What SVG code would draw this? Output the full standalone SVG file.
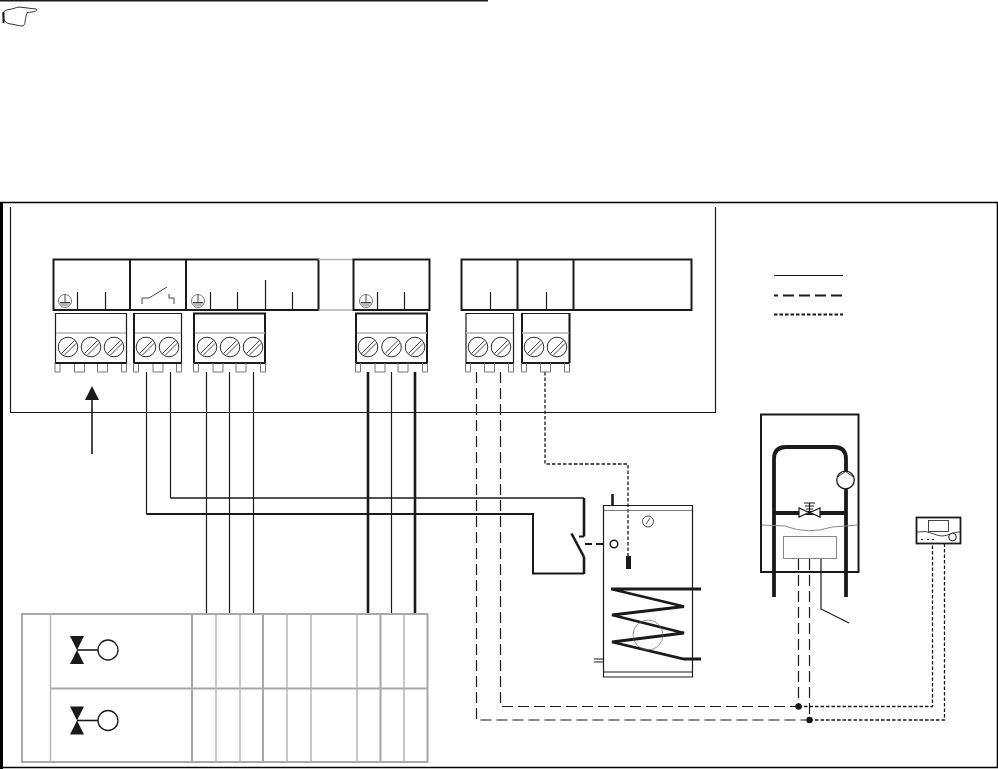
<svg xmlns="http://www.w3.org/2000/svg" width="998" height="769" viewBox="0 0 998 769">
<style>
path,circle,rect,ellipse{fill:none}
.k{stroke:#1a1a1a;stroke-width:1.2}
.n{stroke:#1a1a1a;stroke-width:.8}
.m{stroke:#1a1a1a;stroke-width:1.6}
.h{stroke:#1a1a1a;stroke-width:2}
.t{stroke:#1a1a1a;stroke-width:2.6}
.g{stroke:#b3b3b3;stroke-width:1.4}
.gg{stroke:#a8a8a8;stroke-width:2}
.ft{stroke:#777;stroke-width:1}
.d{stroke:#1a1a1a;stroke-width:1.2;stroke-dasharray:11 5}
.s{stroke:#1a1a1a;stroke-width:1.3;stroke-dasharray:3.500 2}
.f{fill:#1a1a1a;stroke:none}
.w{fill:#fff;stroke:#1a1a1a;stroke-width:.9}
.b{stroke:#1a1a1a;stroke-width:3.8}
</style>
<defs>
<g id="screw"><circle r="9.800" class="w"/><path d="M-6.500 6.500L6.500-6.500M-3.800 8.300L8.300-3.800" class="n"/></g>
<g id="foot"><path d="M-2.500 0V9H2.500V0" class="ft"/></g>
<g id="foot2"><path d="M-5 0V9H5V0" class="ft"/></g>
<g id="earth"><circle r="6.500" style="fill:#fff;stroke:#666;stroke-width:.9"/><path d="M-6 1.500A6.500 6.500 0 0 0 6 1.500Z" style="fill:#b3b3b3"/><path d="M0-6V1" class="n"/><path d="M-5 1.500H5" class="n"/></g>
<g id="valve"><path d="M70 0H84L77 14ZM70 28H84L77 14Z" class="f"/><path d="M77 14H98" class="m"/><ellipse cx="108" cy="14" rx="10" ry="10" style="fill:#fff;stroke:#1a1a1a;stroke-width:1.3"/></g>
</defs>
<g id="topnote">
<path d="M0 .7H488" class="m"/>
<path d="M3 14C3 11 6 10 9 9.500C13 9 16 7.500 19 7L36 9C38 10 37 12 27 12.500C27 14 26 16 25.500 18.500C25 22 25 26 22 26C19 26 15 24.500 11 24C6 23.500 3 21 3 14Z" style="fill:#fff;stroke:#1a1a1a;stroke-width:.9"/>
<path d="M3.500 12V23" class="h"/>
</g>
<g id="frames">
<path d="M1.500 202V769" style="stroke:#000;stroke-width:3"/>
<path d="M0 202.500H997.500V767.500H0" style="stroke:#000;stroke-width:1.6"/>
<path d="M10.500 207V412.500H715.500V207" class="k"/>
</g>
<g id="connectors">
<path d="M146.500 372V514M170.500 372V498" class="k"/>
<path d="M170.500 498H584" class="m"/>
<path d="M146.500 514H533V573.500H584" class="h"/>
<path d="M584 498V536.500M584 557V574" class="t"/>
<path d="M206.500 372V613M229.500 372V613M253.500 372V613" class="k"/>
<path d="M368 372V613M415 372V613" class="t"/>
<path d="M391.500 372V613" class="k"/>
<path d="M476.500 372V720H809.500" class="d"/>
<path d="M500.500 372V706.500H798.500" class="d"/>
<path d="M809.500 720H944.500V541M798.500 706.500H932.500V541" class="s"/>
<path d="M798.500 559V706.500M809.500 559V720" class="d"/>
<path d="M545 372V464H628V556" class="s"/>
<path d="M585 544H607" style="stroke:#1a1a1a;stroke-width:2.200;stroke-dasharray:7 4"/>
<path d="M821 559V609L849 623" class="k"/>
<circle cx="798.500" cy="706.500" r="3.200" class="f"/>
<circle cx="809.500" cy="720" r="3.200" class="f"/>
<path d="M92 454V396" class="m"/>
<path d="M85 400L92 386L99 400Z" class="f"/>
</g>
<g id="header1">
<path d="M53.500 259.500H318.500V310H53.500ZM130 259.500V310M186 259.500V310" class="h"/>
<path d="M77.500 292V310M105.500 292V310M210.500 292V310M237.500 292V310M265.500 280V310M292.500 292V310" class="k"/>
<use href="#earth" x="65" y="301"/><use href="#earth" x="198" y="301"/>
<path d="M142 304V298H149L167 287M169 294V298H174V304" class="n"/>
</g>
<g id="header2">
<path d="M318.500 259.500H354M318.500 310H354" class="g"/>
<path d="M353.500 259.500H429.500V310H353.500Z" class="h"/>
<path d="M377.500 292V310M404.500 292V310" class="k"/>
<use href="#earth" x="366" y="301"/>
</g>
<g id="header3">
<path d="M461.500 259.500H691.500V310H461.500ZM517.500 259.500V310M573.500 259.500V310" class="h"/>
<path d="M490.500 292V310M546.500 292V310" class="k"/>
</g>
<g id="legend"><path d="M774 275.500H843" class="k"/><path d="M774 295.500H843" style="stroke:#1a1a1a;stroke-width:2;stroke-dasharray:4 5 11 5 11 5 11 5 11 5"/><path d="M774 314.500H843" style="stroke:#1a1a1a;stroke-width:2;stroke-dasharray:3.500 2"/></g>
<g id="terminal1"><path d="M55.500 313.500H126.500V363H55.500Z" class="k"/><path d="M56 333H126" class="g"/><use href="#screw" x="68" y="347"/><use href="#screw" x="91" y="347"/><use href="#screw" x="114" y="347"/><use href="#foot" x="57.500" y="363"/><use href="#foot2" x="79.500" y="363"/><use href="#foot2" x="102.500" y="363"/><use href="#foot" x="124" y="363"/><path d="M55.500 363H126.500" class="h"/></g>
<g id="terminal2"><path d="M134 313.500H181.500V363H134Z" class="k"/><path d="M134 313V363" class="h"/><path d="M135 333H181" class="g"/><use href="#screw" x="146" y="347"/><use href="#screw" x="169" y="347"/><use href="#foot" x="136" y="363"/><use href="#foot2" x="158" y="363"/><use href="#foot" x="179" y="363"/><path d="M134 363H181.500" class="h"/></g>
<g id="terminal3"><path d="M194 313.500H265V363H194Z" class="h"/><path d="M195 333H265" class="g"/><use href="#screw" x="207" y="347"/><use href="#screw" x="230" y="347"/><use href="#screw" x="253" y="347"/><use href="#foot" x="196" y="363"/><use href="#foot2" x="218" y="363"/><use href="#foot2" x="241" y="363"/><use href="#foot" x="263" y="363"/></g>
<g id="terminal4"><path d="M356 313.500H427V363H356Z" class="h"/><path d="M357 333H427" class="g"/><use href="#screw" x="368" y="347"/><use href="#screw" x="391.500" y="347"/><use href="#screw" x="415" y="347"/><use href="#foot" x="358" y="363"/><use href="#foot2" x="380" y="363"/><use href="#foot2" x="403" y="363"/><use href="#foot" x="425" y="363"/></g>
<g id="terminal5"><path d="M466 313.500H513.500V363H466Z" class="k"/><path d="M466 363H513.500" class="h"/><path d="M466 333H513" class="g"/><use href="#screw" x="478" y="347"/><use href="#screw" x="501" y="347"/><use href="#foot" x="468" y="363"/><use href="#foot2" x="489.500" y="363"/><use href="#foot" x="511" y="363"/></g>
<g id="terminal6"><path d="M522 313.500H569.500V363H522Z" class="k"/><path d="M522 313V363M569.500 313V363M522 363H569.500" class="h"/><path d="M522 333H569" class="g"/><use href="#screw" x="534" y="347"/><use href="#screw" x="557" y="347"/><use href="#foot" x="524" y="363"/><use href="#foot2" x="545.500" y="363"/><use href="#foot" x="567" y="363"/></g>
<g id="tank">
<path d="M603.500 505.500H692.500V677H603.500Z" class="k"/>
<path d="M604 510.500H692" class="ft"/>
<path d="M604 672H692" class="k"/>
<path d="M612.500 494V505" class="t"/>
<rect x="626" y="556" width="5" height="13" class="f"/>
<circle cx="648" cy="521.500" r="5.500" class="n"/><path d="M646 524L650 518" class="n"/>
<circle cx="614" cy="544" r="3.800" style="fill:#fff;stroke:#1a1a1a;stroke-width:1.500"/>
<path d="M571.500 533.500L584 557" class="t"/>
<path d="M579 536.500H584" class="h"/>
<path d="M611 589H701M611 589L684 606.500L612 615L684 633L612 642L684 659H701" style="stroke:#1a1a1a;stroke-width:2.800"/>
<circle cx="648" cy="635" r="15" style="stroke:#666;stroke-width:.7"/>
<path d="M594 659H603M594 662H603" class="k"/>
</g>
<g id="boiler">
<path d="M761 414.500H858.500V572H761Z" class="h"/>
<path d="M774 597V459Q774 447 786 447H834Q846 447 846 459V597" class="b"/>
<path d="M775 513H846" class="b"/>
<circle cx="845.500" cy="480" r="8.800" style="fill:#fff;stroke:#1a1a1a;stroke-width:1.300"/>
<path d="M837.500 477L845.500 471.500L853.500 477" class="n"/>
<path d="M799 508V517L809 512.500ZM820 508V517L810 512.500Z" style="fill:#fff;stroke:#1a1a1a;stroke-width:1.200"/>
<path d="M809.500 512.500V503M804 503H815M805 506H814M806 509H813" class="k"/>
<path d="M762 525L785 526Q808 535 832 527L858 525" style="stroke:#888;stroke-width:1"/>
<rect x="783.500" y="536.500" width="53" height="22" style="fill:#fff;stroke:#888;stroke-width:1"/>
</g>
<g id="controller">
<rect x="916.500" y="517.500" width="44" height="26" style="fill:#fff;stroke:#1a1a1a;stroke-width:1.800"/>
<rect x="928.500" y="520.500" width="20" height="11" class="n"/>
<path d="M917 532Q926 530 934 534Q942 538 950 534Q954 532 960 532" class="n"/>
<circle cx="952.500" cy="537" r="3.800" style="fill:#fff;stroke:#1a1a1a;stroke-width:1"/>
<path d="M921 539.500H923M927 539.500H929M932 539.500H934" class="k"/>
</g>
<g id="table">
<path d="M22 614H427.500V762H22Z" class="gg"/>
<path d="M50.500 688.500H427.500" class="gg"/>
<path d="M50.500 614V762" class="g"/>
<path d="M192 614V762M263 614V762M380.500 614V762" class="gg"/>
<path d="M216 614V762M240 614V762M287 614V762M311 614V762M357 614V762M404 614V762" class="g"/>
<use href="#valve" y="636"/><use href="#valve" y="706.500"/>
</g>
</svg>
